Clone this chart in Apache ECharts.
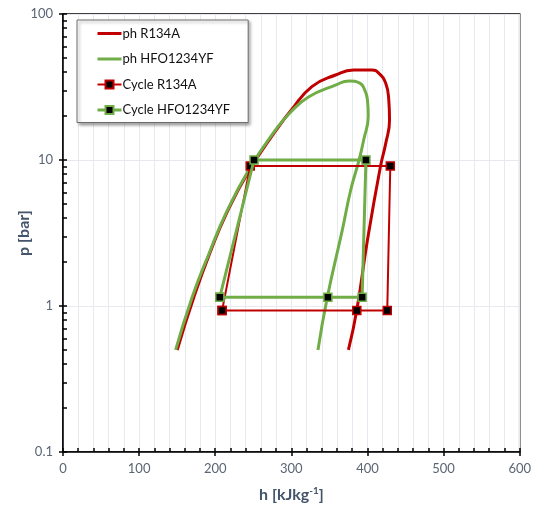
<!DOCTYPE html>
<html>
<head>
<meta charset="utf-8">
<script src="https://cdn.jsdelivr.net/npm/echarts@6/dist/echarts.min.js"></script>
<style>
  html, body { margin: 0; padding: 0; background: #fff; }
  #chart { width: 534px; height: 510px; }
</style>
</head>
<body>
<div id="chart"></div>
<script>
// Saturation dome of R134A (h in kJ/kg, p in bar)
const domeR134aH = [150, 172, 193, 215, 245, 280, 300, 327, 358, 382, 406, 415, 424, 428, 429, 424, 417, 400, 386, 375];
const domeR134aP = [0.5, 1.15, 2.31, 4.33, 8.54, 16.0, 22.0, 31.8, 38.2, 41.3, 41.3, 39.3, 33.5, 25.8, 18.8, 13.0, 9.0, 2.83, 0.94, 0.5];

// Saturation dome of HFO1234YF
const domeHfoH = [148, 170, 192, 214, 244, 279, 298, 323, 358, 376, 390, 396, 400, 401, 395, 389, 378, 367, 347, 335];
const domeHfoP = [0.5, 1.16, 2.30, 4.31, 8.54, 16.0, 21.0, 27.1, 32.6, 34.8, 33.6, 30.5, 25.8, 20.0, 13.7, 10.0, 6.23, 3.32, 1.13, 0.5];

// Refrigeration cycles
const cycleR134aH = [209, 386, 426, 430, 246, 209];
const cycleR134aP = [0.93, 0.93, 0.93, 9.1, 9.1, 0.93];
const cycleHfoH = [206, 348, 393, 398, 251, 206];
const cycleHfoP = [1.15, 1.15, 1.15, 10.0, 10.0, 1.15];

// Axis ticks
const hTicks = [0, 100, 200, 300, 400, 500, 600];
const pTicks = [0.1, 1, 10, 100];

const RED = '#c00000';
const GREEN = '#70ad47';
const LABEL = '#5b6575';
const TITLE = '#44546a';
const FONT = 'Lato, "Open Sans", sans-serif';

const pair = (xs, ys) => xs.map((x, i) => [x, ys[i]]);

// log minor tick positions 2..9 in each decade
const pMinor = [];
for (let d = 0; d < pTicks.length - 1; d++) {
  for (let k = 1; k <= 9; k++) pMinor.push(+(pTicks[d] * k).toPrecision(3));
}
pMinor.push(pTicks[pTicks.length - 1]);

const chart = echarts.init(document.getElementById('chart'), null, { renderer: 'canvas' });

chart.setOption({
  animation: false,
  backgroundColor: '#fff',
  textStyle: { fontFamily: FONT },
  grid: {
    left: 63, right: 13, top: 14, bottom: 58,
    show: true, borderColor: '#000', borderWidth: 1.5, backgroundColor: 'transparent'
  },
  legend: {
    left: 77, top: 20, orient: 'vertical',
    itemWidth: 24, itemHeight: 10, itemGap: 12.5,
    padding: [7, 18, 6, 19],
    backgroundColor: '#fff',
    borderColor: '#6e6e6e', borderWidth: 1,
    shadowColor: 'rgba(0,0,0,0.35)', shadowBlur: 3, shadowOffsetX: 2, shadowOffsetY: 2,
    textStyle: { fontFamily: FONT, fontSize: 13, color: '#111', padding: [0, 0, 0, -4] },
    data: [
      { name: 'ph R134A', itemStyle: { opacity: 0 }, lineStyle: { width: 3 } },
      { name: 'ph HFO1234YF', itemStyle: { opacity: 0 }, lineStyle: { width: 3 } },
      { name: 'Cycle R134A', lineStyle: { width: 2 } },
      { name: 'Cycle HFO1234YF', lineStyle: { width: 3 } }
    ]
  },
  xAxis: [
    {
      type: 'value', min: hTicks[0], max: hTicks[hTicks.length - 1], interval: 100,
      position: 'bottom',
      name: '{a|h [kJkg}{s|-1}{a|]}',
      nameLocation: 'middle', nameGap: 34, nameMoveOverlap: false,
      nameTextStyle: {
        rich: {
          a: { fontFamily: FONT, fontSize: 16, fontWeight: 'bold', color: TITLE },
          s: { fontFamily: FONT, fontSize: 10, fontWeight: 'bold', color: TITLE, padding: [0, 0, 8, 0] }
        }
      },
      axisLine: { show: true, onZero: false, lineStyle: { color: '#000', width: 1.5 } },
      axisTick: { show: true, inside: false, length: 4, lineStyle: { color: '#000', width: 1.5 } },
      axisLabel: { color: LABEL, fontSize: 13, fontFamily: FONT, margin: 10 },
      splitLine: { show: false }
    },
    {
      type: 'value', min: hTicks[0], max: hTicks[hTicks.length - 1], interval: 20,
      position: 'bottom', offset: 0,
      axisLine: { show: false },
      axisTick: { show: true, inside: true, length: 4, lineStyle: { color: '#000', width: 1.5 } },
      axisLabel: { show: false },
      splitLine: { show: true, lineStyle: { color: '#e6e9ee', width: 1 } }
    }
  ],
  yAxis: [
    {
      type: 'log', logBase: 10, min: pTicks[0], max: pTicks[pTicks.length - 1],
      position: 'left',
      name: 'p [bar]', nameLocation: 'middle', nameGap: 31, nameMoveOverlap: false,
      nameTextStyle: { fontFamily: FONT, fontSize: 16, fontWeight: 'bold', color: TITLE },
      axisLine: { show: true, onZero: false, lineStyle: { color: '#000', width: 1.5 } },
      axisTick: { show: true, inside: false, length: 4, lineStyle: { color: '#000', width: 1.5 } },
      axisLabel: {
        color: LABEL, fontSize: 13, fontFamily: FONT, margin: 10,
        formatter: v => String(+v.toPrecision(3))
      },
      splitLine: { show: true, lineStyle: { color: '#e6e9ee', width: 1 } }
    },
    {
      type: 'log', logBase: 10, min: pTicks[0], max: pTicks[pTicks.length - 1],
      position: 'left', offset: 0,
      axisLine: { show: false },
      axisTick: { show: true, inside: true, length: 4, customValues: pMinor, lineStyle: { color: '#000', width: 1.5 } },
      axisLabel: { show: false },
      splitLine: { show: false }
    }
  ],
  series: [
    {
      name: 'ph R134A', type: 'line', data: pair(domeR134aH, domeR134aP),
      smooth: 0.5, symbol: 'none', showSymbol: false,
      lineStyle: { color: RED, width: 3 }, itemStyle: { color: RED }, z: 2
    },
    {
      name: 'ph HFO1234YF', type: 'line', data: pair(domeHfoH, domeHfoP),
      smooth: 0.5, symbol: 'none', showSymbol: false,
      lineStyle: { color: GREEN, width: 3 }, itemStyle: { color: GREEN }, z: 3
    },
    {
      name: 'Cycle R134A', type: 'line', data: pair(cycleR134aH, cycleR134aP),
      symbol: 'rect', symbolSize: 8, showSymbol: true,
      lineStyle: { color: RED, width: 2 },
      itemStyle: { color: '#000', borderColor: RED, borderWidth: 1.5 }, z: 4
    },
    {
      name: 'Cycle HFO1234YF', type: 'line', data: pair(cycleHfoH, cycleHfoP),
      symbol: 'rect', symbolSize: 8, showSymbol: true,
      lineStyle: { color: GREEN, width: 3 },
      itemStyle: { color: '#000', borderColor: GREEN, borderWidth: 1.5 }, z: 5
    }
  ]
});
</script>
</body>
</html>
